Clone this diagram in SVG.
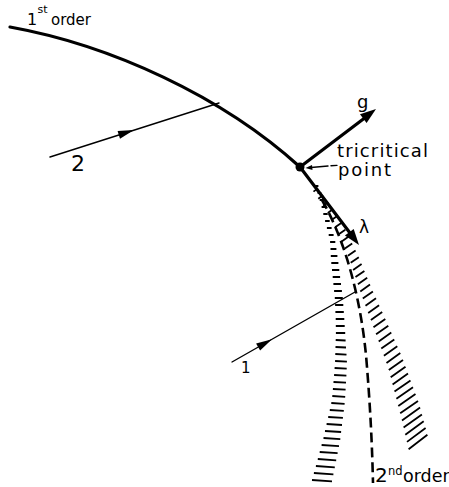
<svg xmlns="http://www.w3.org/2000/svg" width="449" height="487" viewBox="0 0 449 487">
<style>
text{font-family:"DejaVu Sans","Liberation Sans",Arial,sans-serif;fill:#000}
.thick{fill:none;stroke:#000;stroke-width:3.2;stroke-linecap:round}
.thin{fill:none;stroke:#000;stroke-width:1.4;stroke-linecap:round}
.tick{stroke:#000;stroke-width:1.8;stroke-linecap:butt}
.head{fill:#000;stroke:none}
</style>
<rect width="449" height="487" fill="#fff"/>
<g id="first-order-line">
<path class="thick" d="M10,27 C110,45 222,96 300,167"/>
<text x="27" y="25"><tspan font-size="16">1</tspan><tspan font-size="11" x="37.6" dy="-12">st</tspan><tspan font-size="15" x="51" dy="12">order</tspan></text>
</g>
<g id="band-left">
<path class="tick" d="M315.3,186H318.4M317.6,193H321.3M319.7,200H323.8M321.6,207H325.8M323.3,214H327.7M325.1,221H329.7M326.9,228H331.6M328.7,235H333.6M330.1,242H335.3M330.5,249H336.4M330.8,256H337.4M331.3,263H338.4M332,270H339.3M332.7,277H340.1M333.4,284H341M334.1,291H341.9M334.8,298H342.8M335.1,305H343.3M335.4,312H343.8M335.7,319H344.3M335.8,326H344.7M335.9,333H345.2M335.7,340L345.6,340.5M335.5,347L346,347.5M335.3,354L346.5,354.6M335.1,361L346.9,361.6M334.6,368L346.7,368.6M334.1,375L346.4,375.7M333.5,382L346,382.7M332.9,389L345.6,389.7M332.3,396L345.2,396.8M331.3,403L344.6,403.8M329.8,410L343.8,410.9M328.2,417L342.9,417.9M326.6,424L342,425M325,431L341.1,432M323.5,438L340.3,439.1M321.6,445L339,446.2M319.7,452L337.6,453.2M317.8,459L336.2,460.3M315.9,466L334.8,467.3M313.9,473L333.4,474.4M312,480L332,481.4"/>
</g>
<g id="band-right">
<path class="tick" d="M313.5,191.6L317.8,188.4M318.3,198.7L323,195.3M323.2,205.8L328.2,202.2M327.8,213L333.2,209M331.5,220L337.3,216M335.1,227.2L341.3,222.9M338.7,234.3L345.3,229.7M341.7,241.4L348.7,236.6M344.9,248.6L352.2,243.5M347.9,255.7L355.6,250.4M350.7,262.8L358.8,257.2M353.1,270L361.6,264.1M355.5,277.1L364.4,270.9M357.9,284.3L367.2,277.8M360.3,291.4L370,284.6M362.8,298.6L372.9,291.5M365.5,305.7L376,298.3M368.2,312.9L379.1,305.2M370.9,320L382.2,312M373.5,327.2L385.3,318.9M376.1,334.3L388.3,325.7M378.7,341.5L391.3,332.6M381.3,348.6L394.3,339.4M383.9,355.8L397.3,346.3M386.5,362.9L400.3,353.1M388.8,370.1L403,359.9M390.7,377.3L405.5,366.8M392.6,384.5L408,373.6M394.5,391.6L410.5,380.4M396.4,398.8L413,387.2M398.3,406L415.5,394M400.2,413.2L418,400.9M402,420.4L420.1,407.6M403.6,427.6L421.9,414.4M405.3,434.8L423.7,421.2M407,441.9L425.6,428M408.6,449.3L427.4,434.8"/>
</g>
<g id="second-order-line">
<path fill="none" stroke="#000" stroke-width="2.6" stroke-dasharray="10 5" d="M322,200 C345,240 362,300 367,367 C370,405 372,440 373,483"/>
<text x="375" y="482"><tspan font-size="20">2</tspan><tspan font-size="11.5" x="388" dy="-7">nd</tspan><tspan font-size="17.5" x="403" dy="7">order</tspan></text>
</g>
<g id="connectors">
<g id="path-2">
<line class="thin" x1="50" y1="157" x2="219" y2="103"/>
<polygon class="head" points="134,130 120,138.7 117.6,131.1"/>
<text x="71" y="171" font-size="22">2</text>
</g>
<g id="path-1">
<line class="thin" x1="232" y1="362" x2="355" y2="292"/>
<polygon class="head" points="272,339.2 260.1,350.6 256.1,343.6"/>
<text x="241" y="373" font-size="15">1</text>
</g>
<g id="arrow-g">
<line class="thick" x1="300" y1="167" x2="364" y2="118.5" stroke-width="3.5"/>
<polygon class="head" points="376,109 366.6,123.1 360,114.3"/>
<text x="357" y="108" font-size="18">g</text>
</g>
<g id="arrow-lambda">
<line class="thick" x1="300" y1="167" x2="350" y2="233" stroke-width="3.5"/>
<polygon class="head" points="359,245 353.7,229 344.9,235.6"/>
<text x="359" y="233" font-size="17">λ</text>
</g>
<g id="leader">
<line class="thin" x1="311" y1="167.5" x2="328" y2="166" stroke-width="1.2"/>
<line class="thin" x1="331" y1="165.8" x2="337" y2="165.4" stroke-width="1.2"/>
<polygon class="head" points="305.5,168 312,165 312.5,170"/>
</g>
</g>
<g id="tricritical-point">
<circle cx="300" cy="167" r="4.5" fill="#000"/>
<text x="337" y="157" font-size="18" textLength="91" lengthAdjust="spacing">tricritical</text>
<text x="338" y="176" font-size="18" textLength="53" lengthAdjust="spacing">point</text>
</g>
</svg>
